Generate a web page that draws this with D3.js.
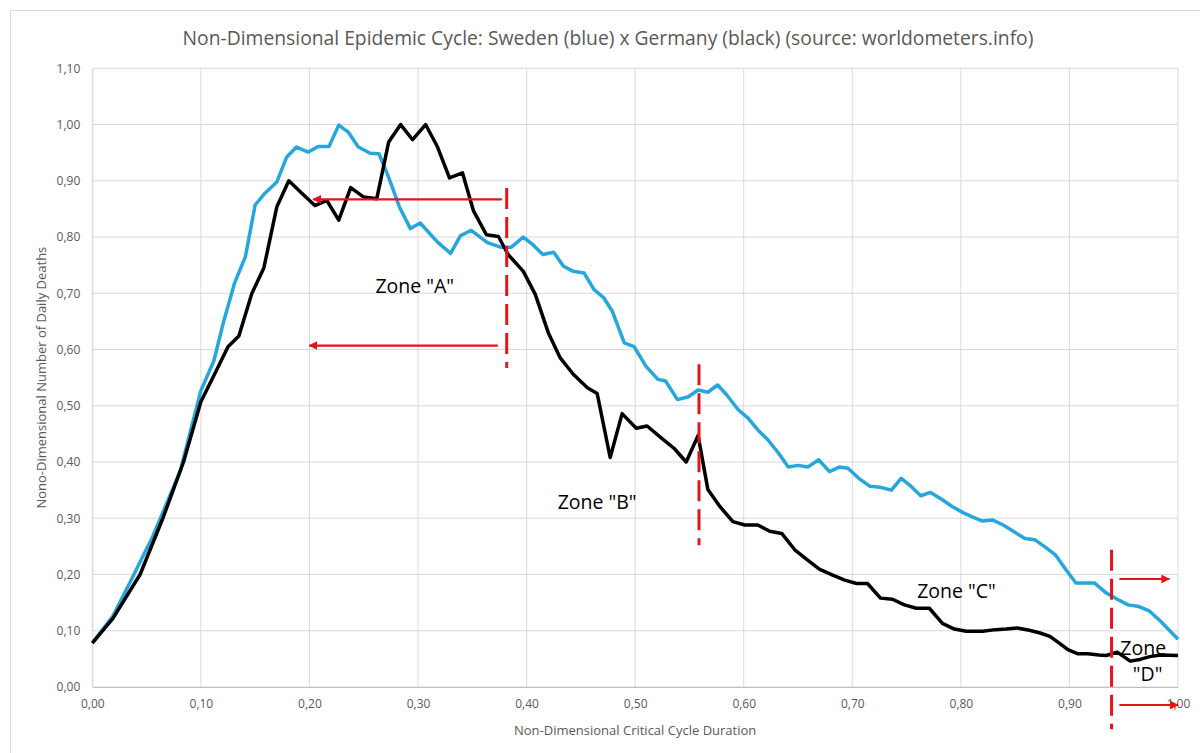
<!DOCTYPE html>
<html>
<head>
<meta charset="utf-8">
<script src="https://cdnjs.cloudflare.com/ajax/libs/d3/7.8.5/d3.min.js"></script>
<style>
  body { margin: 0; background: #fff; }
  svg { display: block; font-family: "Open Sans", sans-serif; }
</style>
</head>
<body>
<svg></svg>
<script>
// Sweden (blue)
var sweX = [0.000,0.019,0.035,0.056,0.081,0.100,0.112,0.121,0.131,0.141,0.150,0.159,0.170,0.179,0.188,0.199,0.208,0.218,0.227,0.236,0.245,0.256,0.264,0.273,0.283,0.293,0.302,0.318,0.330,0.339,0.349,0.364,0.376,0.386,0.397,0.406,0.415,0.425,0.434,0.443,0.453,0.462,0.471,0.479,0.490,0.499,0.510,0.521,0.528,0.539,0.549,0.558,0.567,0.576,0.584,0.595,0.604,0.613,0.622,0.632,0.641,0.650,0.659,0.669,0.679,0.688,0.696,0.706,0.716,0.726,0.736,0.745,0.754,0.763,0.772,0.783,0.792,0.802,0.811,0.820,0.829,0.839,0.849,0.859,0.868,0.879,0.887,0.897,0.906,0.914,0.923,0.934,0.945,0.954,0.964,0.973,0.984,1.000];
var sweY = [0.078,0.126,0.187,0.269,0.384,0.527,0.580,0.650,0.718,0.765,0.857,0.878,0.898,0.942,0.960,0.951,0.961,0.961,0.999,0.986,0.960,0.949,0.948,0.906,0.853,0.815,0.825,0.791,0.771,0.802,0.812,0.790,0.782,0.782,0.800,0.786,0.769,0.773,0.748,0.739,0.736,0.707,0.692,0.668,0.612,0.605,0.570,0.547,0.544,0.511,0.516,0.528,0.524,0.537,0.520,0.493,0.478,0.457,0.440,0.416,0.391,0.394,0.391,0.404,0.383,0.391,0.389,0.371,0.357,0.355,0.350,0.371,0.357,0.340,0.346,0.333,0.321,0.310,0.302,0.295,0.297,0.288,0.276,0.264,0.262,0.247,0.235,0.208,0.185,0.185,0.185,0.167,0.155,0.146,0.143,0.136,0.117,0.085];

// Germany (black)
var gerX = [0.000,0.019,0.044,0.065,0.084,0.100,0.112,0.125,0.135,0.147,0.158,0.170,0.181,0.193,0.205,0.216,0.227,0.238,0.250,0.262,0.273,0.284,0.295,0.307,0.318,0.329,0.341,0.351,0.363,0.374,0.383,0.397,0.408,0.420,0.431,0.443,0.456,0.465,0.477,0.488,0.501,0.511,0.524,0.536,0.547,0.558,0.567,0.578,0.590,0.601,0.613,0.624,0.635,0.647,0.658,0.670,0.682,0.693,0.704,0.714,0.726,0.737,0.748,0.759,0.771,0.783,0.794,0.805,0.820,0.832,0.842,0.852,0.863,0.873,0.882,0.890,0.899,0.908,0.917,0.927,0.934,0.944,0.956,0.965,0.974,0.984,1.000];
var gerY = [0.078,0.122,0.200,0.300,0.400,0.507,0.554,0.605,0.624,0.700,0.745,0.854,0.900,0.878,0.856,0.865,0.830,0.888,0.871,0.868,0.969,1.000,0.973,1.000,0.960,0.905,0.914,0.847,0.804,0.801,0.769,0.739,0.698,0.630,0.585,0.556,0.532,0.522,0.408,0.486,0.460,0.464,0.443,0.424,0.400,0.447,0.351,0.321,0.294,0.288,0.288,0.277,0.273,0.244,0.227,0.209,0.199,0.190,0.184,0.184,0.158,0.156,0.146,0.140,0.140,0.113,0.103,0.099,0.099,0.102,0.103,0.105,0.101,0.096,0.090,0.079,0.066,0.059,0.059,0.057,0.056,0.062,0.046,0.049,0.054,0.057,0.056];

var xTicks = [0,0.1,0.2,0.3,0.4,0.5,0.6,0.7,0.8,0.9,1.0];
var yTicks = [0,0.1,0.2,0.3,0.4,0.5,0.6,0.7,0.8,0.9,1.0,1.1];

// annotations, in data units
var zoneLines = [{x:0.3817,y1:0.887,y2:0.567},{x:0.5588,y1:0.574,y2:0.252},{x:0.9388,y1:0.244,y2:-0.075}];
var zoneArrows = [{x1:0.3773,x2:0.2035,y:0.867},{x1:0.3735,x2:0.2000,y:0.607},{x1:0.946,x2:0.992,y:0.192},{x1:0.946,x2:1.000,y:-0.032}];
var zoneLabels = [{t:'Zone "A"',x:0.297,y:0.700},{t:'Zone "B"',x:0.465,y:0.317},{t:'Zone "C"',x:0.796,y:0.159},{t:'Zone',x:0.968,y:0.057},{t:'"D"',x:0.972,y:0.010}];

var W = 1200, H = 753;
var margin = {top: 68.3, right: 22, bottom: 66, left: 92.3};
var width = W - margin.left - margin.right,
    height = H - margin.top - margin.bottom;

var svg = d3.select("svg").attr("width", W).attr("height", H);

svg.append("rect")
    .attr("x", 10.5).attr("y", 10.5)
    .attr("width", W - 10).attr("height", H - 10)
    .attr("fill", "none").attr("stroke", "#d9d9d9");

var x = d3.scaleLinear().domain([0, 1]).range([0, width]);
var y = d3.scaleLinear().domain([0, 1.1]).range([height, 0]);

var fmt = function(d) { return d3.format(".2f")(d).replace(".", ","); };

var g = svg.append("g")
    .attr("transform", "translate(" + margin.left + "," + margin.top + ")");

// grid
g.selectAll(".hgrid").data(yTicks).enter().append("line")
    .attr("x1", 0).attr("x2", width)
    .attr("y1", function(d) { return y(d); }).attr("y2", function(d) { return y(d); })
    .attr("stroke", "#d9d9d9").attr("stroke-width", 1);
g.selectAll(".vgrid").data(xTicks).enter().append("line")
    .attr("y1", 0).attr("y2", height)
    .attr("x1", function(d) { return x(d); }).attr("x2", function(d) { return x(d); })
    .attr("stroke", "#d9d9d9").attr("stroke-width", 1);

var xAxis = g.append("g")
    .attr("transform", "translate(0," + height + ")")
    .call(d3.axisBottom(x).tickValues(xTicks).tickFormat(fmt).tickSize(0).tickPadding(12));
var yAxis = g.append("g")
    .call(d3.axisLeft(y).tickValues(yTicks).tickFormat(fmt).tickSize(0).tickPadding(12));
[xAxis, yAxis].forEach(function(a) {
  a.select(".domain").attr("stroke", "#bfbfbf");
  a.selectAll("text").attr("fill", "#595959").style("font-size", "12px")
    .style("font-family", "'Open Sans', sans-serif");
});
yAxis.select(".domain").attr("stroke", "#d9d9d9");

// series
var line = d3.line()
    .x(function(d) { return x(d[0]); })
    .y(function(d) { return y(d[1]); });

g.append("path")
    .datum(d3.zip(sweX, sweY))
    .attr("d", line)
    .attr("fill", "none").attr("stroke", "#25a7de")
    .attr("stroke-width", 3.5).attr("stroke-linejoin", "round");

g.append("path")
    .datum(d3.zip(gerX, gerY))
    .attr("d", line)
    .attr("fill", "none").attr("stroke", "#000")
    .attr("stroke-width", 3.5).attr("stroke-linejoin", "round");

// annotations
var red = "#e3151b";
svg.append("defs").append("marker")
    .attr("id", "arr").attr("viewBox", "0 0 10 10")
    .attr("refX", 9).attr("refY", 5)
    .attr("markerWidth", 4).attr("markerHeight", 4)
    .attr("orient", "auto")
  .append("path").attr("d", "M0,0L10,5L0,10z").attr("fill", red);

g.selectAll(".zline").data(zoneLines).enter().append("line")
    .attr("x1", function(d) { return x(d.x); }).attr("x2", function(d) { return x(d.x); })
    .attr("y1", function(d) { return y(d.y1); }).attr("y2", function(d) { return y(d.y2); })
    .attr("stroke", red).attr("stroke-width", 3)
    .attr("stroke-dasharray", "21,8");

g.selectAll(".zarrow").data(zoneArrows).enter().append("line")
    .attr("x1", function(d) { return x(d.x1); }).attr("x2", function(d) { return x(d.x2); })
    .attr("y1", function(d) { return y(d.y); }).attr("y2", function(d) { return y(d.y); })
    .attr("stroke", red).attr("stroke-width", 2.2)
    .attr("marker-end", "url(#arr)");

g.selectAll(".zlabel").data(zoneLabels).enter().append("text")
    .attr("x", function(d) { return x(d.x); })
    .attr("y", function(d) { return y(d.y); })
    .attr("text-anchor", "middle")
    .style("font-size", "19.5px").attr("fill", "#000")
    .text(function(d) { return d.t; });

// titles
svg.append("text")
    .attr("x", 608).attr("y", 45)
    .attr("text-anchor", "middle")
    .attr("fill", "#595959").style("font-size", "19.3px")
    .text("Non-Dimensional Epidemic Cycle: Sweden (blue) x Germany (black) (source: worldometers.info)");

svg.append("text")
    .attr("x", margin.left + width / 2).attr("y", 735)
    .attr("text-anchor", "middle")
    .attr("fill", "#595959").style("font-size", "13px")
    .text("Non-Dimensional Critical Cycle Duration");

svg.append("text")
    .attr("transform", "translate(46," + (margin.top + height / 2) + ") rotate(-90)")
    .attr("text-anchor", "middle")
    .attr("fill", "#595959").style("font-size", "13px")
    .text("Nono-Dimensional Number of Daily Deaths");
</script>
</body>
</html>
